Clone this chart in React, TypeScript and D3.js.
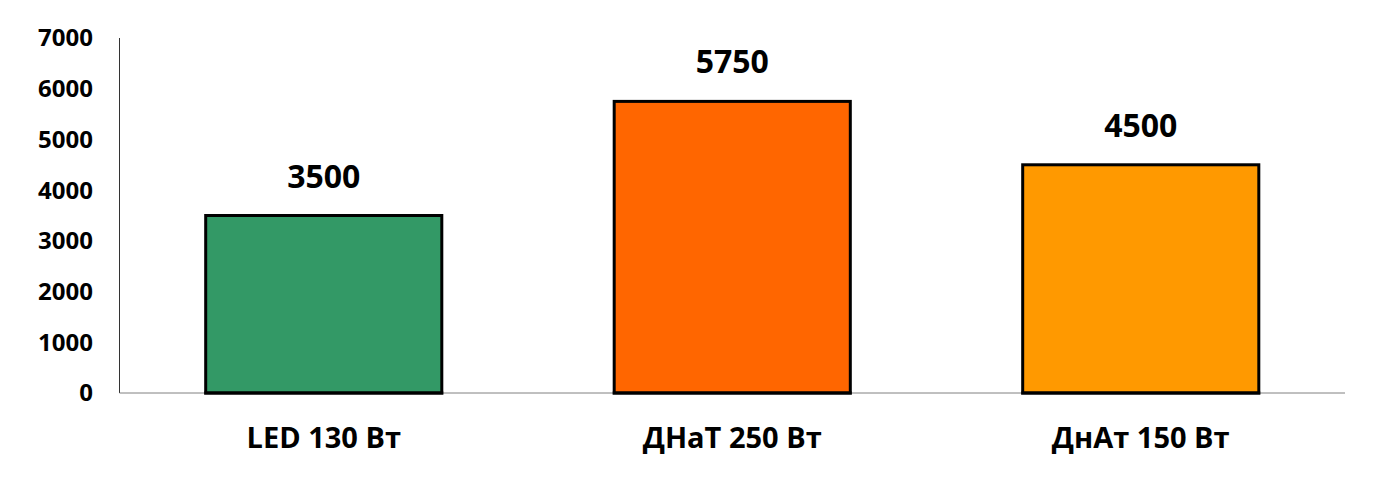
import { useEffect, useRef } from "react";
import * as d3 from "d3";

const categories = ["LED 130 Вт", "ДНаТ 250 Вт", "ДнАт 150 Вт"];
const values = [3500, 5750, 4500];
const barColors = ["#339966", "#FF6600", "#FF9900"];
const yTicks = [0, 1000, 2000, 3000, 4000, 5000, 6000, 7000];

const FONT = "'Open Sans', 'Noto Sans', sans-serif";

export default function App() {
  const svgRef = useRef<SVGSVGElement>(null);

  useEffect(() => {
    if (!svgRef.current) return;
    const svg = d3.select(svgRef.current);
    svg.selectAll("*").remove();

    const left = 119.5;
    const right = 1345;
    const top = 38;
    const bottom = 393;

    const x = d3
      .scaleBand<string>()
      .domain(categories)
      .range([left, right])
      .paddingInner(0.422)
      .paddingOuter(0.211);

    const y = d3.scaleLinear().domain([0, 7000]).range([bottom, top]);

    // y axis line
    svg
      .append("line")
      .attr("x1", left)
      .attr("x2", left)
      .attr("y1", top)
      .attr("y2", bottom)
      .attr("stroke", "#333")
      .attr("stroke-width", 1);

    // y tick labels
    svg
      .append("g")
      .selectAll("text")
      .data(yTicks)
      .enter()
      .append("text")
      .attr("x", 93)
      .attr("y", (d) => y(d))
      .attr("dy", "0.35em")
      .attr("text-anchor", "end")
      .attr("font-family", FONT)
      .attr("font-weight", 700)
      .attr("font-size", 24)
      .attr("fill", "#000")
      .text((d) => d);

    // bars
    svg
      .append("g")
      .selectAll("rect")
      .data(values)
      .enter()
      .append("rect")
      .attr("x", (_, i) => x(categories[i])!)
      .attr("y", (d) => y(d))
      .attr("width", x.bandwidth())
      .attr("height", (d) => bottom - y(d))
      .attr("fill", (_, i) => barColors[i])
      .attr("stroke", "#000")
      .attr("stroke-width", 3);

    // x axis line
    svg
      .append("line")
      .attr("x1", left)
      .attr("x2", right)
      .attr("y1", bottom)
      .attr("y2", bottom)
      .attr("stroke", "#808080")
      .attr("stroke-width", 1);

    // redraw bar bottoms over axis
    svg
      .append("g")
      .selectAll("line")
      .data(values)
      .enter()
      .append("line")
      .attr("x1", (_, i) => x(categories[i])! - 1.5)
      .attr("x2", (_, i) => x(categories[i])! + x.bandwidth() + 1.5)
      .attr("y1", bottom)
      .attr("y2", bottom)
      .attr("stroke", "#000")
      .attr("stroke-width", 3);

    // value labels
    svg
      .append("g")
      .selectAll("text")
      .data(values)
      .enter()
      .append("text")
      .attr("x", (_, i) => x(categories[i])! + x.bandwidth() / 2)
      .attr("y", (d) => y(d) - 28)
      .attr("text-anchor", "middle")
      .attr("font-family", FONT)
      .attr("font-weight", 700)
      .attr("font-size", 32)
      .attr("fill", "#000")
      .text((d) => d);

    // category labels
    svg
      .append("g")
      .selectAll("text")
      .data(categories)
      .enter()
      .append("text")
      .attr("x", (d) => x(d)! + x.bandwidth() / 2)
      .attr("y", 448)
      .attr("text-anchor", "middle")
      .attr("font-family", FONT)
      .attr("font-weight", 700)
      .attr("font-size", 29)
      .attr("fill", "#000")
      .text((d) => d);
  }, []);

  return (
    <div style={{ position: "absolute", left: 0, top: 0, width: 1400, height: 480, background: "#fff" }}>
      <svg ref={svgRef} width={1400} height={480} />
    </div>
  );
}
